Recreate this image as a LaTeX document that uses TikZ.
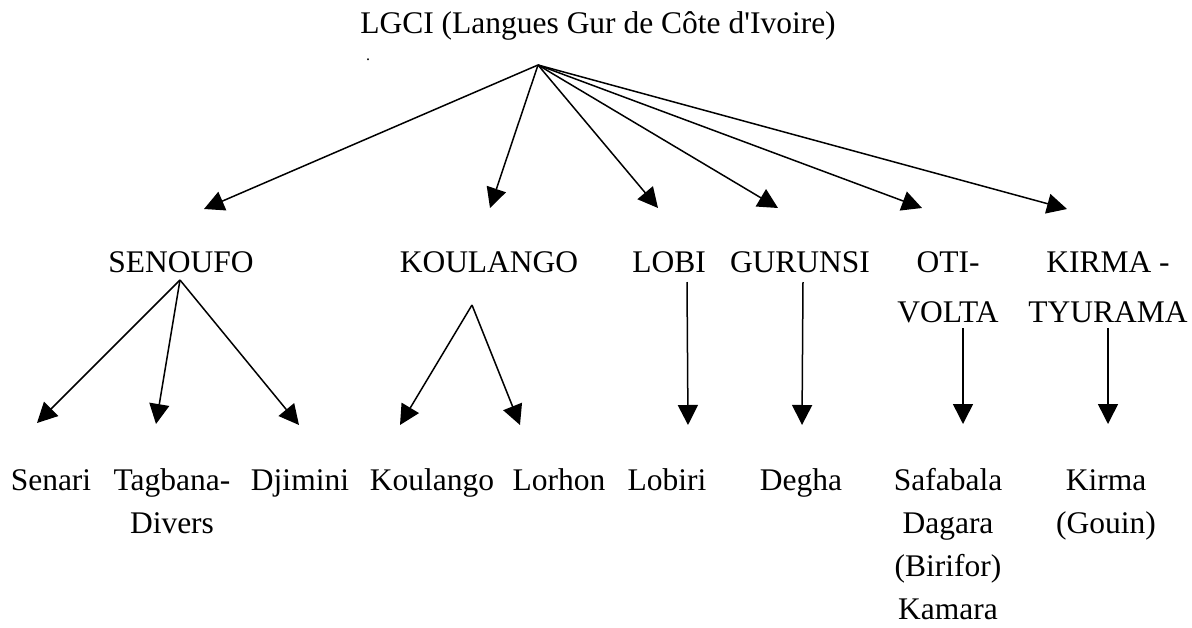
\documentclass[tikz,border=0pt]{standalone}
\usepackage{fontspec}
\setmainfont{Liberation Serif}[Ligatures=TeXOff]
\usetikzlibrary{arrows.meta}
\begin{document}
\begin{tikzpicture}[x=1pt,y=-1pt,
  lab/.style={font=\fontsize{31.5}{50}\selectfont, inner sep=0pt, anchor=base, align=center},
  leaf/.style={font=\fontsize{31.5}{43}\selectfont, inner sep=0pt, anchor=base, align=center},
  arr/.style={line width=1.5pt, -{Triangle[length=20pt,width=20pt]}}]
\useasboundingbox (0,0) rectangle (1192,627);
% title
\node[lab] (root) at (598,33) {LGCI (Langues Gur de Côte d'Ivoire)};
\node[font=\fontsize{16}{18}\selectfont, inner sep=0pt, anchor=base] (dot) at (368,60) {.};
\coordinate (top) at (538,65);
% level 1 labels (base anchor = baseline of last line)
\node[lab] (senoufo) at (181,272) {SENOUFO};
\node[lab] (koulango) at (489,272) {KOULANGO};
\node[lab] (lobi) at (669,272) {LOBI};
\node[lab] (gurunsi) at (800,272) {GURUNSI};
\node[lab] (oti) at (948,322) {OTI-\\VOLTA};
\node[lab] (kirma) at (1108,322) {KIRMA -\\TYURAMA};
% level 1 arrow ends
\coordinate (tS) at (204,209);
\coordinate (tK) at (490,208);
\coordinate (tL) at (658,208);
\coordinate (tG) at (778,208);
\coordinate (tO) at (922,208);
\coordinate (tT) at (1067,209);
\draw[arr] (top) -- (tS);
\draw[arr] (top) -- (tK);
\draw[arr] (top) -- (tL);
\draw[arr] (top) -- (tG);
\draw[arr] (top) -- (tO);
\draw[arr] (top) -- (tT);
% level 2 origins
\coordinate (sS) at (180,280);
\coordinate (sK) at (472,305);
\coordinate (sL) at (687,282);
\coordinate (sG) at (803,282);
\coordinate (sO) at (963,328);
\coordinate (sT) at (1108,328);
% level 2 arrow ends
\coordinate (eSen) at (37,423);
\coordinate (eTag) at (156,424);
\coordinate (eDji) at (299,425);
\coordinate (eKou) at (400,425);
\coordinate (eLor) at (520,425);
\coordinate (eLob) at (688,425);
\coordinate (eDeg) at (802,425);
\coordinate (eSaf) at (963,424);
\coordinate (eKir) at (1108,424);
\draw[arr] (sS) -- (eSen);
\draw[arr] (sS) -- (eTag);
\draw[arr] (sS) -- (eDji);
\draw[arr] (sK) -- (eKou);
\draw[arr] (sK) -- (eLor);
\draw[arr] (sL) -- (eLob);
\draw[arr] (sG) -- (eDeg);
\draw[arr] (sO) -- (eSaf);
\draw[arr] (sT) -- (eKir);
% leaves (base anchor = baseline of last line)
\node[leaf] (senari) at (51,490) {Senari};
\node[leaf] (tagbana) at (172,533) {Tagbana-\\Divers};
\node[leaf] (djimini) at (300,490) {Djimini};
\node[leaf] (koulangoL) at (432,490) {Koulango};
\node[leaf] (lorhon) at (559,490) {Lorhon};
\node[leaf] (lobiri) at (667,490) {Lobiri};
\node[leaf] (degha) at (801,490) {Degha};
\node[leaf] (safabala) at (948,619) {Safabala\\Dagara\\(Birifor)\\Kamara};
\node[leaf] (kirmaL) at (1106,533) {Kirma\\(Gouin)};
\end{tikzpicture}
\end{document}
